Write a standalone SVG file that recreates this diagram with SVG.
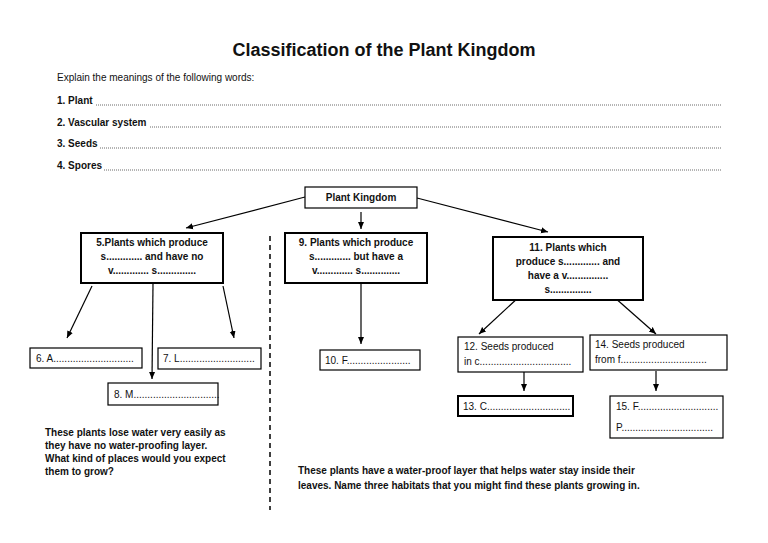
<svg xmlns="http://www.w3.org/2000/svg" width="768" height="543" viewBox="0 0 768 543">
<defs>
<marker id="ah" markerWidth="8" markerHeight="8" refX="7" refY="4" orient="auto" markerUnits="userSpaceOnUse"><path d="M0,1 L7,4 L0,7 Z" fill="#000"/></marker>
<style>
text{font-family:"Liberation Sans",Arial,sans-serif;fill:#111;font-size:10px}
.t{font-size:18px;font-weight:bold}
.b{font-weight:bold}
.box{fill:#fff;stroke:#000;stroke-width:1.2}
.thick{fill:#fff;stroke:#000;stroke-width:2}
.c{stroke:#000;stroke-width:1.2;fill:none;marker-end:url(#ah)}
.dot{stroke:#444;stroke-width:0.8;stroke-dasharray:1 1}
</style>
</defs>
<rect width="768" height="543" fill="#fff"/>
<text x="384" y="56" text-anchor="middle" class="t">Classification of the Plant Kingdom</text>
<text x="57" y="81">Explain the meanings of the following words:</text>
<g class="b">
<text x="57" y="104">1.  Plant</text>
<text x="57" y="126">2.  Vascular system</text>
<text x="57" y="147">3.  Seeds</text>
<text x="57" y="169">4.  Spores</text>
</g>
<line class="dot" x1="96" y1="105" x2="722" y2="105"/>
<line class="dot" x1="150" y1="127" x2="722" y2="127"/>
<line class="dot" x1="100" y1="148" x2="722" y2="148"/>
<line class="dot" x1="104" y1="170" x2="722" y2="170"/>
<line x1="270" y1="236" x2="270" y2="510" stroke="#000" stroke-width="1.5" stroke-dasharray="5 4"/>
<g id="connectors">
<line class="c" x1="305" y1="197" x2="186" y2="228"/>
<line class="c" x1="361" y1="212" x2="361" y2="229"/>
<line class="c" x1="417" y1="198" x2="548" y2="232"/>
<line class="c" x1="92" y1="286" x2="67" y2="338"/>
<line class="c" x1="153" y1="284" x2="152" y2="379"/>
<line class="c" x1="223" y1="286" x2="234" y2="338"/>
<line class="c" x1="361" y1="284" x2="361" y2="344"/>
<line class="c" x1="520" y1="296" x2="479" y2="334"/>
<line class="c" x1="614" y1="297" x2="656" y2="334"/>
<line class="c" x1="524" y1="372" x2="524" y2="391"/>
<line class="c" x1="656" y1="371" x2="656" y2="391" stroke-width="2"/>
</g>
<g id="pk"><rect class="box" x="305" y="187" width="112" height="21"/><text x="361" y="201" text-anchor="middle" class="b">Plant Kingdom</text></g>
<g id="n5"><rect class="thick" x="81" y="233" width="142" height="50"/>
<text x="152" y="246" text-anchor="middle" class="b">5.Plants which produce</text>
<text x="152" y="260" text-anchor="middle" class="b">s.............  and have  no</text>
<text x="152" y="274" text-anchor="middle" class="b">v.............  s..............</text></g>
<g id="n9"><rect class="thick" x="285" y="233" width="142" height="50"/>
<text x="356" y="246" text-anchor="middle" class="b">9. Plants which produce</text>
<text x="356" y="260" text-anchor="middle" class="b">s.............  but have  a</text>
<text x="356" y="274" text-anchor="middle" class="b">v.............  s..............</text></g>
<g id="n11"><rect class="thick" x="493" y="237" width="150" height="63"/>
<text x="568" y="251" text-anchor="middle" class="b">11. Plants which</text>
<text x="568" y="265" text-anchor="middle" class="b">produce s.............  and</text>
<text x="568" y="279" text-anchor="middle" class="b">have a v...............</text>
<text x="568" y="293" text-anchor="middle" class="b">s...............</text></g>
<g id="n6"><rect class="box" x="30" y="348" width="112" height="20"/><text x="36" y="362">6. A.............................</text></g>
<g id="n7"><rect class="box" x="158" y="348" width="103" height="21"/><text x="163" y="362">7. L...........................</text></g>
<g id="n8"><rect class="box" x="108" y="383" width="110" height="22"/><text x="114" y="398">8. M...............................</text></g>
<g id="n10"><rect class="box" x="320" y="350" width="100" height="20"/><text x="325" y="364">10. F.......................</text></g>
<g id="n12"><rect class="box" x="458" y="337" width="125" height="35"/><text x="464" y="350">12. Seeds produced</text><text x="464" y="365">in c.................................</text></g>
<g id="n14"><rect class="box" x="590" y="335" width="137" height="35"/><text x="595" y="348">14. Seeds produced</text><text x="595" y="363">from f...............................</text></g>
<g id="n13"><rect class="thick" x="458" y="396" width="115" height="20"/><text x="463" y="410">13. C..............................</text></g>
<g id="n15"><rect class="box" x="610" y="396" width="113" height="42"/><text x="616" y="410">15. F.............................</text><text x="616" y="431">P.................................</text></g>
<g class="b">
<text x="45" y="436">These plants lose water very easily as</text>
<text x="45" y="449">they have no water-proofing layer.</text>
<text x="45" y="462">What kind of places would you expect</text>
<text x="45" y="475">them to grow?</text>
<text x="298" y="474">These plants have a water-proof  layer that helps water stay inside their</text>
<text x="298" y="489">leaves.  Name three habitats that you might find these plants growing in.</text>
</g>
</svg>
